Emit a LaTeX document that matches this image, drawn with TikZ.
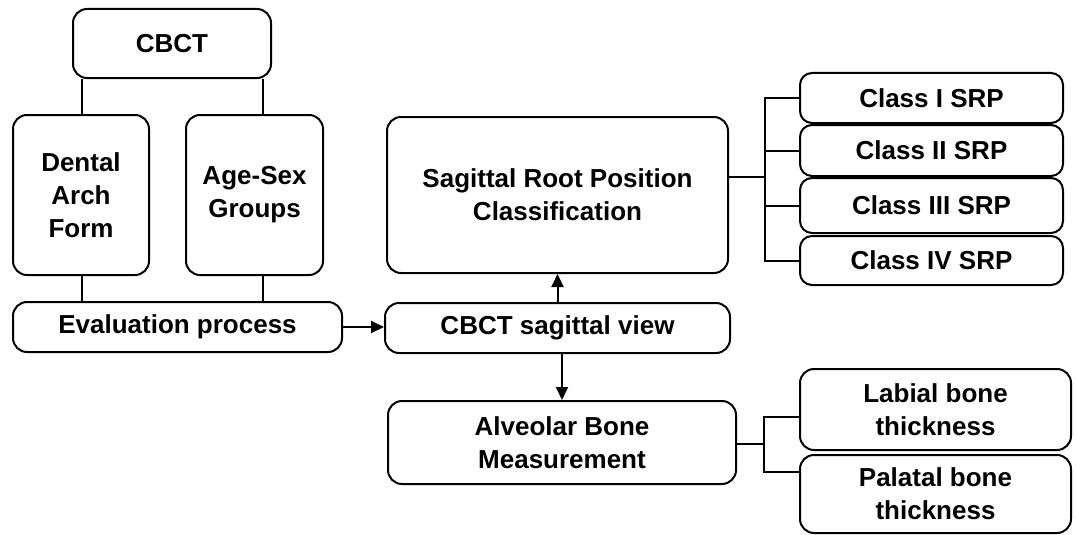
\documentclass[tikz,border=0pt]{standalone}
\usepackage{fontspec}
\setmainfont{Liberation Sans}
\usetikzlibrary{arrows.meta}
\begin{document}
\begin{tikzpicture}[x=1pt,y=-1pt,
  box/.style={draw=black, line width=2pt, rounded corners=14pt, inner sep=0pt,
    align=center, font=\fontsize{26}{33}\selectfont\bfseries},
  conn/.style={draw=black, line width=2pt},
  arr/.style={conn, -{Triangle[length=13pt,width=12pt]}}]
\useasboundingbox (0,0) rectangle (1076,535);
\node[box, minimum width=198, minimum height=69] (cbct) at (172,43.5) {CBCT};
\node[box, minimum width=136, minimum height=160] (dental) at (81,195) {Dental\\Arch\\Form};
\node[box, minimum width=137, minimum height=160] (agesex) at (254.5,195) {Age-Sex\\Groups};
\node[box, minimum width=329, minimum height=50] (eval) at (177.5,327) {Evaluation process};
\node[box, minimum width=345, minimum height=50] (sag) at (557.5,328) {CBCT sagittal view};
\node[box, minimum width=341, minimum height=156] (srp) at (557.5,195) {Sagittal Root Position\\Classification};
\node[box, rounded corners=12pt, minimum width=263, minimum height=50] (c1) at (931.5,98) {Class I SRP};
\node[box, rounded corners=12pt, minimum width=263, minimum height=51] (c2) at (931.5,150.5) {Class II SRP};
\node[box, rounded corners=12pt, minimum width=263, minimum height=55] (c3) at (931.5,205.5) {Class III SRP};
\node[box, rounded corners=12pt, minimum width=263, minimum height=49] (c4) at (931.5,260.5) {Class IV SRP};
\node[box, minimum width=348, minimum height=83] (alv) at (562,442.5) {Alveolar Bone\\Measurement};
\node[box, minimum width=271, minimum height=81] (lab) at (935.5,409.5) {Labial bone\\thickness};
\node[box, minimum width=271, minimum height=78] (pal) at (935.5,494) {Palatal bone\\thickness};
% left tree
\draw[conn] ([xshift=1pt]dental.north) -- ([xshift=1pt]dental.north |- cbct.south);
\draw[conn] ([xshift=8.5pt]agesex.north) -- ([xshift=8.5pt]agesex.north |- cbct.south);
\draw[conn] ([xshift=1pt]dental.south) -- ([xshift=1pt]dental.south |- eval.north);
\draw[conn] ([xshift=8.5pt]agesex.south) -- ([xshift=8.5pt]agesex.south |- eval.north);
% arrows
\draw[arr] (eval.east) -- (eval.east -| sag.west);
\draw[arr] (sag.north) -- (srp.south);
\draw[arr] (sag.south -| alv.north) -- (alv.north);
% SRP bracket
\coordinate (bj) at (765,177);
\draw[conn] (srp.east |- bj) -- (bj);
\draw[conn] (c1.west) -- (c1.west -| bj) -- (c4.west -| bj) -- (c4.west);
\draw[conn] (c2.west) -- (c2.west -| bj);
\draw[conn] (c3.west) -- (c3.west -| bj);
% alveolar bracket
\coordinate (la) at (764,417);
\coordinate (pa) at (764,472);
\coordinate (aj) at (764,444);
\draw[conn] (alv.east |- aj) -- (aj);
\draw[conn] (la -| lab.west) -- (la) -- (pa) -- (pa -| pal.west);
\end{tikzpicture}
\end{document}
